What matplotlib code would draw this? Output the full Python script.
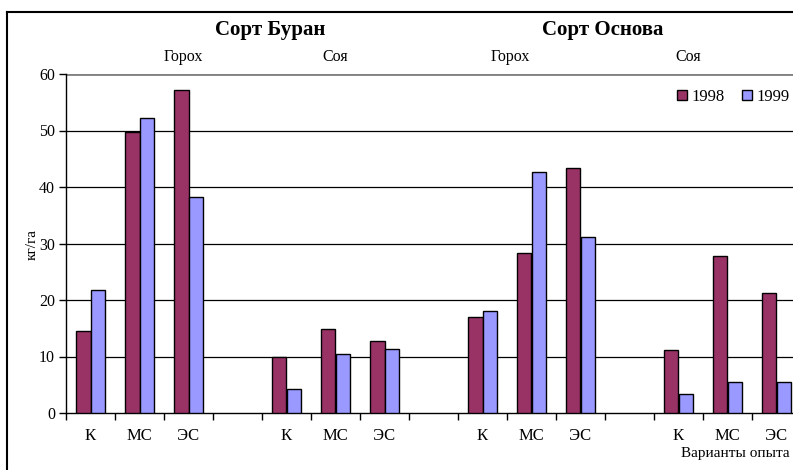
import numpy as np
import matplotlib
matplotlib.use("Agg")
from matplotlib import pyplot as plt
from matplotlib.lines import Line2D

plt.rcParams['font.family'] = ['Liberation Serif', 'DejaVu Serif']

# categories along the x axis (blank slots separate the groups)
categories = ['К', 'МС', 'ЭС', '', 'К', 'МС', 'ЭС', '', 'К', 'МС', 'ЭС', '', 'К', 'МС', 'ЭС']
# yields, kg/ha (None = empty slot)
y1998 = [14.6, 49.7, 57.2, None, 9.9, 14.8, 12.8, None, 17.0, 28.3, 43.3, None, 11.2, 27.7, 21.2]
y1999 = [21.8, 52.2, 38.3, None, 4.2, 10.4, 11.3, None, 18.0, 42.7, 31.2, None, 3.4, 5.5, 5.5]
years = ['1998', '1999']
colors = ['#993366', '#9999FF']
varieties = ['Сорт Буран', 'Сорт Основа']
crops = ['Горох', 'Соя', 'Горох', 'Соя']

W, H = 793, 470
fig = plt.figure(figsize=(W / 100, H / 100), dpi=100)
fig.patch.set_facecolor('white')

# axes runs past the right edge of the picture, like in the scan
x0, x1 = 66, 66 + 15 * 49
yb, yt = 413, 74
ax = fig.add_axes([x0 / W, 1 - yb / H, (x1 - x0) / W, (yb - yt) / H])

x = np.arange(len(categories))
bw = 0.286
v98 = np.array([np.nan if v is None else v for v in y1998])
v99 = np.array([np.nan if v is None else v for v in y1999])
ax.bar(x - bw / 2, v98, bw, color=colors[0], edgecolor='black', linewidth=1, label=years[0], zorder=3)
ax.bar(x + bw / 2, v99, bw, color=colors[1], edgecolor='black', linewidth=1, label=years[1], zorder=3)

ax.set_xlim(-0.5, len(categories) - 0.5)
ax.set_ylim(0, 60)
ax.set_yticks(range(0, 61, 10))
ax.tick_params(axis='y', labelsize=11.5, length=5, width=1, pad=3, direction='out')
for yv in range(10, 60, 10):
    ax.axhline(yv, color='black', lw=0.9, zorder=1)
ax.axhline(60, color='#808080', lw=2, zorder=1)

ax.set_xticks(x)
ax.set_xticklabels(categories, fontsize=12)
ax.tick_params(axis='x', which='major', length=0, pad=11)
ax.set_xticks(np.arange(-0.5, len(categories), 1), minor=True)
ax.tick_params(axis='x', which='minor', length=5, width=1, direction='out')

for s in ['top', 'right']:
    ax.spines[s].set_visible(False)
ax.spines['left'].set_linewidth(1)
ax.spines['bottom'].set_linewidth(1)

fig.text(32 / W, 1 - 245 / H, 'кг/га', rotation=90, ha='center', va='center', fontsize=11)
fig.text(790 / W, 1 - 454 / H, 'Варианты опыта', ha='right', va='center', fontsize=11)

# headers above the plot
for name, xc in zip(varieties, [270, 603]):
    fig.text(xc / W, 1 - 30 / H, name, ha='center', va='center', fontsize=15, fontweight='bold')
for name, xc in zip(crops, [183, 335, 510, 688]):
    fig.text(xc / W, 1 - 57 / H, name, ha='center', va='center', fontsize=11.5)

fig.legend(loc='center right', bbox_to_anchor=(1.0, 1 - 97 / H), ncol=2, frameon=False,
           fontsize=12, handlelength=0.6, handleheight=0.6, handletextpad=0.3,
           columnspacing=1.0, borderaxespad=0, borderpad=0.2)

# frame of the scanned figure
fig.add_artist(Line2D([7 / W, 1], [1 - 12 / H, 1 - 12 / H], color='black', lw=1.5))
fig.add_artist(Line2D([7 / W, 7 / W], [0, 1 - 12 / H], color='black', lw=1.5))

fig.savefig('out.png', dpi=100)
